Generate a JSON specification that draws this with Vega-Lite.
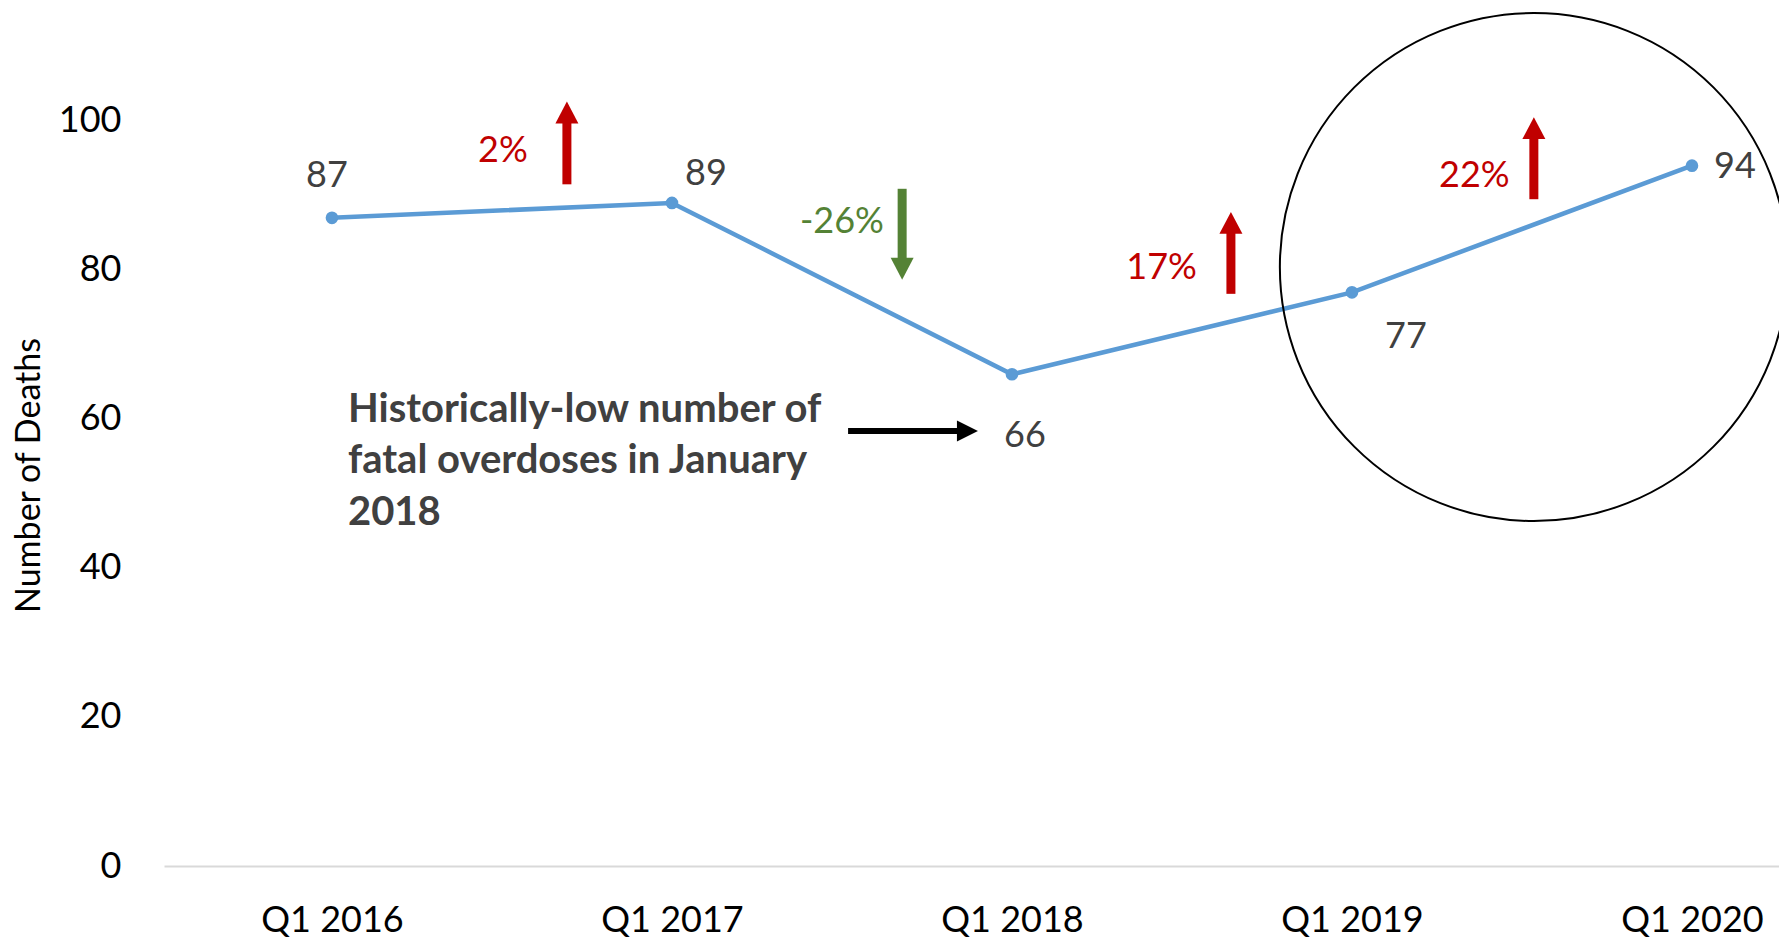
{
  "$schema": "https://vega.github.io/schema/vega-lite/v6.json",
  "width": 1615,
  "height": 866,
  "autosize": {"type": "none"},
  "padding": {"left": 164, "top": 0, "right": 0, "bottom": 73},
  "background": "white",
  "config": {"view": {"stroke": null}, "font": "Lato"},
  "datasets": {
    "deaths": [
      {"year": 2016, "deaths": 87},
      {"year": 2017, "deaths": 89},
      {"year": 2018, "deaths": 66},
      {"year": 2019, "deaths": 77},
      {"year": 2020, "deaths": 94}
    ],
    "changes": [
      {"x": 2016.503, "y": 96.0, "text": "2%", "dir": "up"},
      {"x": 2017.5, "y": 86.4, "text": "-26%", "dir": "down"},
      {"x": 2018.44, "y": 80.3, "text": "17%", "dir": "up"},
      {"x": 2019.36, "y": 92.6, "text": "22%", "dir": "up"}
    ],
    "arrows": [
      {"x": 2016.691, "base": 91.5, "tip": 102.6, "dir": "up"},
      {"x": 2017.677, "base": 90.9, "tip": 78.7, "dir": "down"},
      {"x": 2018.644, "base": 76.8, "tip": 87.8, "dir": "up"},
      {"x": 2019.535, "base": 89.5, "tip": 100.5, "dir": "up"}
    ],
    "highlight": [{"x": 2019.535, "y": 80.4}],
    "callout": [{"x": 2016.047, "y": 59.6, "x2": 2017.518, "tip": 2017.9, "ay": 58.4}]
  },
  "layer": [
    {
      "data": {"name": "deaths"},
      "mark": {"type": "line", "color": "#5B9BD5", "strokeWidth": 4.5},
      "encoding": {
        "x": {
          "field": "year", "type": "quantitative",
          "scale": {"domain": [2015.506, 2020.256], "nice": false, "zero": false},
          "axis": {
            "values": [2016, 2017, 2018, 2019, 2020],
            "labelExpr": "'Q1 ' + datum.value",
            "title": null, "grid": false, "ticks": false, "tickSize": 0,
            "domainColor": "#D9D9D9", "domainWidth": 2,
            "labelFontSize": 36, "labelColor": "black", "labelFont": "Lato",
            "labelBaseline": "middle", "labelPadding": 54, "labelFlush": false, "labelOverlap": false
          }
        },
        "y": {
          "field": "deaths", "type": "quantitative",
          "scale": {"domain": [0, 116.24], "nice": false, "zero": true},
          "axis": {
            "values": [0, 20, 40, 60, 80, 100],
            "title": "Number of Deaths", "grid": false, "domain": false, "ticks": false, "tickSize": 0,
            "labelFontSize": 36, "labelColor": "black", "labelFont": "Lato", "labelPadding": 43,
            "titleFontSize": 34, "titleFontWeight": "normal", "titleColor": "black", "titleFont": "Lato",
            "titleX": -135, "titleY": 475, "titleAngle": -90, "titleBaseline": "middle", "titleAlign": "center"
          }
        }
      }
    },
    {
      "data": {"name": "deaths"},
      "mark": {"type": "point", "filled": true, "color": "#5B9BD5", "size": 160, "opacity": 1},
      "encoding": {
        "x": {"field": "year", "type": "quantitative", "scale": {"domain": [2015.506, 2020.256], "nice": false, "zero": false}},
        "y": {"field": "deaths", "type": "quantitative", "scale": {"domain": [0, 116.24], "nice": false, "zero": true}}
      }
    },
    {
      "data": {"name": "deaths"},
      "transform": [{"filter": "datum.year == 2016"}],
      "mark": {"type": "text", "fontSize": 36, "color": "#404040", "dx": -5, "dy": -42, "baseline": "middle", "align": "center"},
      "encoding": {
        "x": {"field": "year", "type": "quantitative", "scale": {"domain": [2015.506, 2020.256], "nice": false, "zero": false}},
        "y": {"field": "deaths", "type": "quantitative", "scale": {"domain": [0, 116.24], "nice": false, "zero": true}},
        "text": {"field": "deaths"}
      }
    },
    {
      "data": {"name": "deaths"},
      "transform": [{"filter": "datum.year == 2017"}],
      "mark": {"type": "text", "fontSize": 36, "color": "#404040", "dx": 34, "dy": -29, "baseline": "middle", "align": "center"},
      "encoding": {
        "x": {"field": "year", "type": "quantitative", "scale": {"domain": [2015.506, 2020.256], "nice": false, "zero": false}},
        "y": {"field": "deaths", "type": "quantitative", "scale": {"domain": [0, 116.24], "nice": false, "zero": true}},
        "text": {"field": "deaths"}
      }
    },
    {
      "data": {"name": "deaths"},
      "transform": [{"filter": "datum.year == 2018"}],
      "mark": {"type": "text", "fontSize": 36, "color": "#404040", "dx": 13, "dy": 62, "baseline": "middle", "align": "center"},
      "encoding": {
        "x": {"field": "year", "type": "quantitative", "scale": {"domain": [2015.506, 2020.256], "nice": false, "zero": false}},
        "y": {"field": "deaths", "type": "quantitative", "scale": {"domain": [0, 116.24], "nice": false, "zero": true}},
        "text": {"field": "deaths"}
      }
    },
    {
      "data": {"name": "deaths"},
      "transform": [{"filter": "datum.year == 2019"}],
      "mark": {"type": "text", "fontSize": 36, "color": "#404040", "dx": 54, "dy": 45, "baseline": "middle", "align": "center"},
      "encoding": {
        "x": {"field": "year", "type": "quantitative", "scale": {"domain": [2015.506, 2020.256], "nice": false, "zero": false}},
        "y": {"field": "deaths", "type": "quantitative", "scale": {"domain": [0, 116.24], "nice": false, "zero": true}},
        "text": {"field": "deaths"}
      }
    },
    {
      "data": {"name": "deaths"},
      "transform": [{"filter": "datum.year == 2020"}],
      "mark": {"type": "text", "fontSize": 36, "color": "#404040", "dx": 43, "dy": 1, "baseline": "middle", "align": "center"},
      "encoding": {
        "x": {"field": "year", "type": "quantitative", "scale": {"domain": [2015.506, 2020.256], "nice": false, "zero": false}},
        "y": {"field": "deaths", "type": "quantitative", "scale": {"domain": [0, 116.24], "nice": false, "zero": true}},
        "text": {"field": "deaths"}
      }
    },
    {
      "data": {"name": "changes"},
      "mark": {"type": "text", "fontSize": 36, "baseline": "middle", "align": "center"},
      "encoding": {
        "x": {"field": "x", "type": "quantitative", "scale": {"domain": [2015.506, 2020.256], "nice": false, "zero": false}},
        "y": {"field": "y", "type": "quantitative", "scale": {"domain": [0, 116.24], "nice": false, "zero": true}},
        "text": {"field": "text"},
        "color": {"field": "dir", "type": "nominal", "scale": {"domain": ["up", "down"], "range": ["#C00000", "#548235"]}, "legend": null}
      }
    },
    {
      "data": {"name": "arrows"},
      "transform": [{"filter": "datum.dir == 'up'"}],
      "mark": {"type": "rule", "strokeWidth": 9, "y2Offset": 20, "strokeCap": "butt"},
      "encoding": {
        "x": {"field": "x", "type": "quantitative", "scale": {"domain": [2015.506, 2020.256], "nice": false, "zero": false}},
        "y": {"field": "base", "type": "quantitative", "scale": {"domain": [0, 116.24], "nice": false, "zero": true}},
        "y2": {"field": "tip"},
        "color": {"field": "dir", "type": "nominal", "scale": {"domain": ["up", "down"], "range": ["#C00000", "#548235"]}, "legend": null}
      }
    },
    {
      "data": {"name": "arrows"},
      "transform": [{"filter": "datum.dir == 'down'"}],
      "mark": {"type": "rule", "strokeWidth": 9, "y2Offset": -20, "strokeCap": "butt"},
      "encoding": {
        "x": {"field": "x", "type": "quantitative", "scale": {"domain": [2015.506, 2020.256], "nice": false, "zero": false}},
        "y": {"field": "base", "type": "quantitative", "scale": {"domain": [0, 116.24], "nice": false, "zero": true}},
        "y2": {"field": "tip"},
        "color": {"field": "dir", "type": "nominal", "scale": {"domain": ["up", "down"], "range": ["#C00000", "#548235"]}, "legend": null}
      }
    },
    {
      "data": {"name": "arrows"},
      "transform": [{"filter": "datum.dir == 'up'"}],
      "mark": {"type": "point", "shape": "M-1,1.9L1,1.9L0,0Z", "size": 529, "filled": true, "opacity": 1, "strokeWidth": 0},
      "encoding": {
        "x": {"field": "x", "type": "quantitative", "scale": {"domain": [2015.506, 2020.256], "nice": false, "zero": false}},
        "y": {"field": "tip", "type": "quantitative", "scale": {"domain": [0, 116.24], "nice": false, "zero": true}},
        "color": {"field": "dir", "type": "nominal", "scale": {"domain": ["up", "down"], "range": ["#C00000", "#548235"]}, "legend": null}
      }
    },
    {
      "data": {"name": "arrows"},
      "transform": [{"filter": "datum.dir == 'down'"}],
      "mark": {"type": "point", "shape": "M-1,-1.9L1,-1.9L0,0Z", "size": 529, "filled": true, "opacity": 1, "strokeWidth": 0},
      "encoding": {
        "x": {"field": "x", "type": "quantitative", "scale": {"domain": [2015.506, 2020.256], "nice": false, "zero": false}},
        "y": {"field": "tip", "type": "quantitative", "scale": {"domain": [0, 116.24], "nice": false, "zero": true}},
        "color": {"field": "dir", "type": "nominal", "scale": {"domain": ["up", "down"], "range": ["#C00000", "#548235"]}, "legend": null}
      }
    },
    {
      "data": {"name": "highlight"},
      "mark": {"type": "point", "shape": "circle", "size": 258064, "filled": false, "stroke": "black", "strokeWidth": 2, "opacity": 1},
      "encoding": {
        "x": {"field": "x", "type": "quantitative", "scale": {"domain": [2015.506, 2020.256], "nice": false, "zero": false}},
        "y": {"field": "y", "type": "quantitative", "scale": {"domain": [0, 116.24], "nice": false, "zero": true}}
      }
    },
    {
      "data": {"name": "callout"},
      "mark": {"type": "text", "fontSize": 40, "fontWeight": "bold", "color": "#404040", "align": "left", "baseline": "alphabetic", "lineHeight": 51.5},
      "encoding": {
        "x": {"field": "x", "type": "quantitative", "scale": {"domain": [2015.506, 2020.256], "nice": false, "zero": false}},
        "y": {"field": "y", "type": "quantitative", "scale": {"domain": [0, 116.24], "nice": false, "zero": true}},
        "text": {"value": ["Historically-low number of", "fatal overdoses in January", "2018"]}
      }
    },
    {
      "data": {"name": "callout"},
      "mark": {"type": "rule", "strokeWidth": 6, "color": "black", "x2Offset": -19, "strokeCap": "butt"},
      "encoding": {
        "x": {"field": "x2", "type": "quantitative", "scale": {"domain": [2015.506, 2020.256], "nice": false, "zero": false}},
        "x2": {"field": "tip"},
        "y": {"field": "ay", "type": "quantitative", "scale": {"domain": [0, 116.24], "nice": false, "zero": true}}
      }
    },
    {
      "data": {"name": "callout"},
      "mark": {"type": "point", "shape": "M0,0L-2,-1L-2,1Z", "size": 441, "filled": true, "opacity": 1, "color": "black", "strokeWidth": 0},
      "encoding": {
        "x": {"field": "tip", "type": "quantitative", "scale": {"domain": [2015.506, 2020.256], "nice": false, "zero": false}},
        "y": {"field": "ay", "type": "quantitative", "scale": {"domain": [0, 116.24], "nice": false, "zero": true}}
      }
    }
  ]
}
